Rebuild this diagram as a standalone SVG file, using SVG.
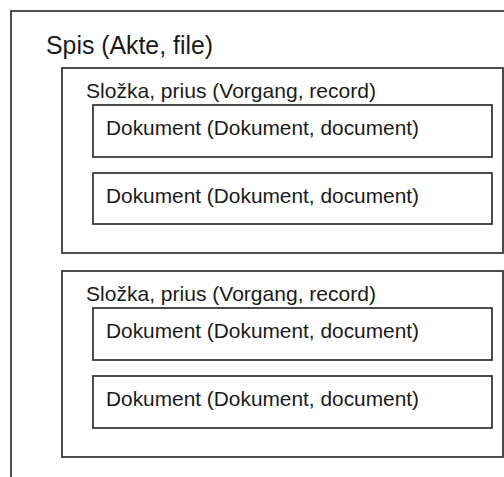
<svg xmlns="http://www.w3.org/2000/svg" width="504" height="477" viewBox="0 0 504 477">
<style>
.box{fill:none;stroke:#3a3a3a;stroke-width:1.8}
.t{font-family:"Liberation Sans",Arial,sans-serif;fill:#1a1a1a}
.big{font-size:25px}
.mid{font-size:21px}
</style>
<rect x="0" y="0" width="504" height="477" fill="#ffffff"/>
<g id="spis">
<rect class="box" x="11" y="11" width="600" height="600"/>
<text class="t big" x="46" y="54" textLength="167" lengthAdjust="spacingAndGlyphs">Spis (Akte, file)</text>
</g>
<g id="slozka1">
<rect class="box" x="62" y="68" width="441" height="185"/>
<text class="t mid" x="86" y="98" textLength="290" lengthAdjust="spacingAndGlyphs">Složka, prius (Vorgang, record)</text>
</g>
<g id="dok1">
<rect class="box" x="93" y="105" width="399" height="52"/>
<text class="t mid" x="106" y="135" textLength="313" lengthAdjust="spacingAndGlyphs">Dokument (Dokument, document)</text>
</g>
<g id="dok2">
<rect class="box" x="93" y="173" width="399" height="51"/>
<text class="t mid" x="106" y="203" textLength="313" lengthAdjust="spacingAndGlyphs">Dokument (Dokument, document)</text>
</g>
<g id="slozka2">
<rect class="box" x="62" y="271" width="441" height="186"/>
<text class="t mid" x="86" y="301" textLength="290" lengthAdjust="spacingAndGlyphs">Složka, prius (Vorgang, record)</text>
</g>
<g id="dok3">
<rect class="box" x="93" y="308" width="399" height="52"/>
<text class="t mid" x="106" y="338" textLength="313" lengthAdjust="spacingAndGlyphs">Dokument (Dokument, document)</text>
</g>
<g id="dok4">
<rect class="box" x="93" y="376" width="399" height="52"/>
<text class="t mid" x="106" y="406" textLength="313" lengthAdjust="spacingAndGlyphs">Dokument (Dokument, document)</text>
</g>
<g id="connectors"></g>
</svg>
